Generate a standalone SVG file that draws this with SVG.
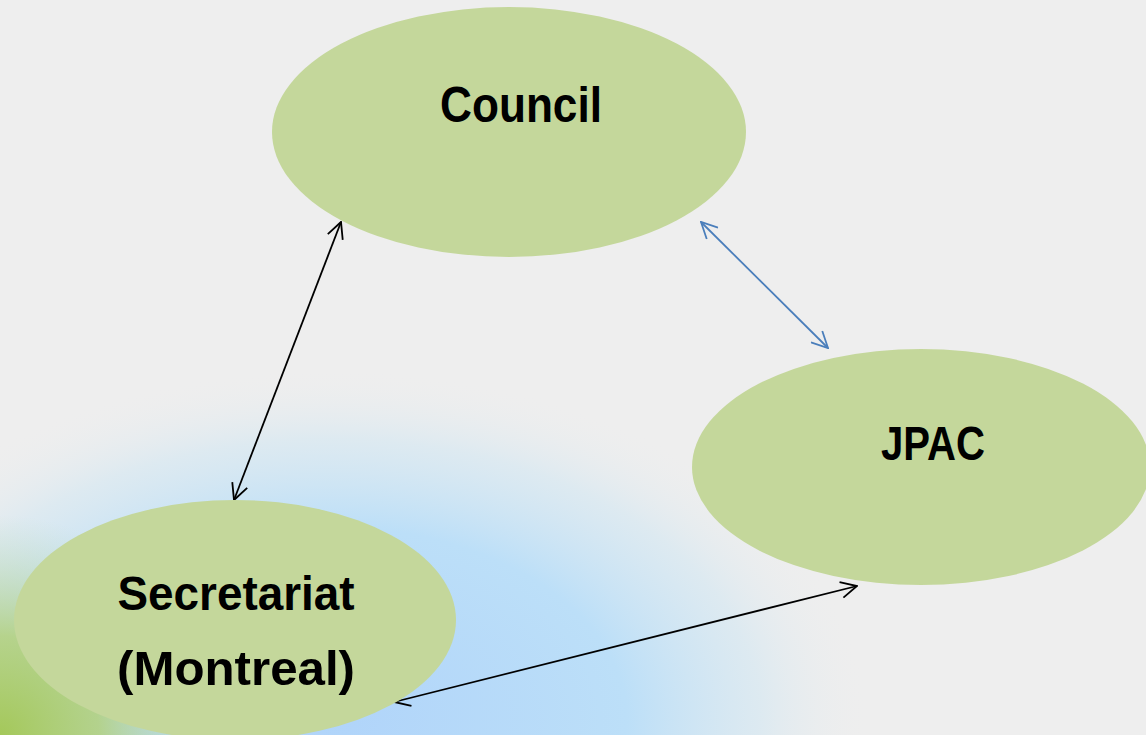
<svg xmlns="http://www.w3.org/2000/svg" width="1146" height="735" viewBox="0 0 1146 735">
<style>
.node{fill:#c4d79b}
.lbl{font-family:"Liberation Sans",Arial,sans-serif;font-weight:bold;fill:#000;text-anchor:middle}
.conn{fill:none;stroke-width:1.8}
</style>
<defs>
<marker id="ab" viewBox="0 0 18 18" refX="17" refY="9" markerWidth="18" markerHeight="18" markerUnits="userSpaceOnUse" orient="auto-start-reverse">
<path d="M1,1 L17,9 L1,17" fill="none" stroke="#000" stroke-width="1.8"/>
</marker>
<marker id="au" viewBox="0 0 18 18" refX="17" refY="9" markerWidth="18" markerHeight="18" markerUnits="userSpaceOnUse" orient="auto-start-reverse">
<path d="M1,1 L17,9 L1,17" fill="none" stroke="#4a7ebb" stroke-width="1.8"/>
</marker>
<radialGradient id="blue" cx="330" cy="720" r="540" gradientUnits="userSpaceOnUse" gradientTransform="translate(330 720) scale(1 0.65) translate(-330 -720)">
<stop offset="0" stop-color="#b0d4fa"/>
<stop offset="0.55" stop-color="#bcdff8"/>
<stop offset="0.8" stop-color="#d6e8f2" stop-opacity="0.7"/>
<stop offset="1" stop-color="#eeeeee" stop-opacity="0"/>
</radialGradient>
<radialGradient id="green" cx="0" cy="735" r="220" gradientUnits="userSpaceOnUse">
<stop offset="0" stop-color="#a4c85a"/>
<stop offset="0.45" stop-color="#b2d07a" stop-opacity="0.85"/>
<stop offset="1" stop-color="#c0dcc0" stop-opacity="0"/>
</radialGradient>
</defs>
<rect width="1146" height="735" fill="#eeeeee"/>
<rect width="1146" height="735" fill="url(#blue)"/>
<rect width="1146" height="735" fill="url(#green)"/>
<g id="connectors">
<line class="conn" x1="341" y1="222" x2="234" y2="500" stroke="#000" marker-start="url(#ab)" marker-end="url(#ab)"/>
<line class="conn" x1="701" y1="222" x2="828" y2="348" stroke="#4a7ebb" marker-start="url(#au)" marker-end="url(#au)"/>
<line class="conn" x1="857" y1="586" x2="394" y2="702" stroke="#000" marker-start="url(#ab)" marker-end="url(#ab)"/>
</g>
<g id="council">
<ellipse class="node" cx="509" cy="132" rx="237" ry="125"/>
<text class="lbl" x="521" y="122" font-size="50" textLength="162" lengthAdjust="spacingAndGlyphs">Council</text>
</g>
<g id="jpac">
<ellipse class="node" cx="921" cy="467" rx="229" ry="118"/>
<text class="lbl" x="933" y="460" font-size="49" textLength="104" lengthAdjust="spacingAndGlyphs">JPAC</text>
</g>
<g id="secretariat">
<ellipse class="node" cx="235" cy="620" rx="221" ry="120"/>
<text class="lbl" x="236" y="610" font-size="49" textLength="237" lengthAdjust="spacingAndGlyphs">Secretariat</text>
<text class="lbl" x="236" y="685" font-size="49" textLength="238" lengthAdjust="spacingAndGlyphs">(Montreal)</text>
</g>
</svg>
